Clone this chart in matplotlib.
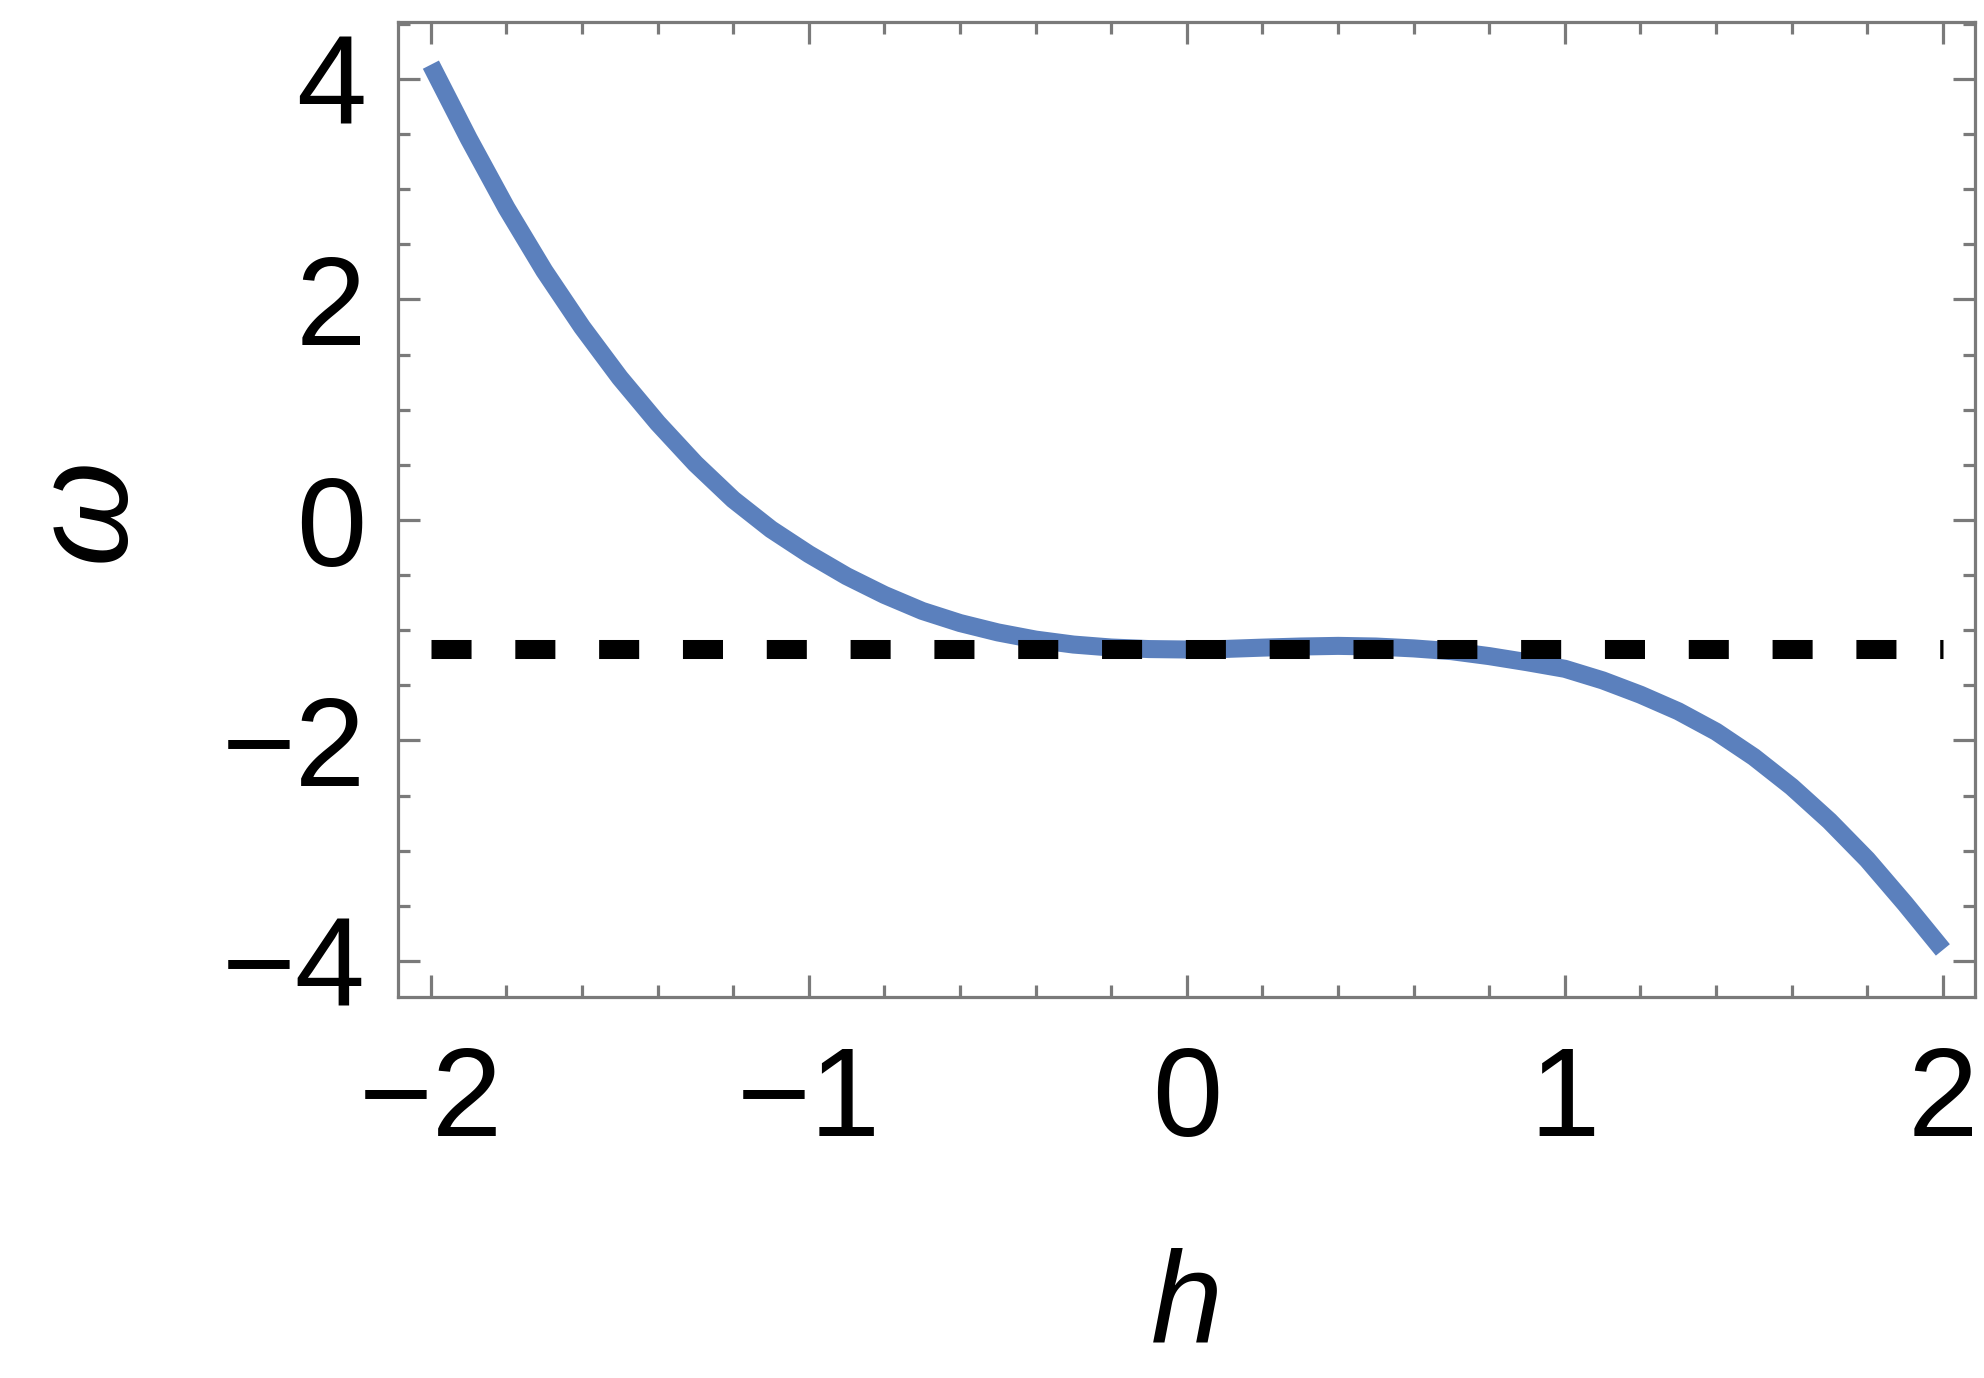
# omega(h) curve with the flat dashed reference level
import matplotlib
matplotlib.use("Agg")
import matplotlib.pyplot as plt
from matplotlib.ticker import MultipleLocator

# values (every 0.1 in h)
h_vals = [-2.0, -1.9, -1.8, -1.7, -1.6, -1.5, -1.4, -1.3, -1.2, -1.1,
          -1.0, -0.9, -0.8, -0.7, -0.6, -0.5, -0.4, -0.3, -0.2, -0.1,
          0.0, 0.1, 0.2, 0.3, 0.4, 0.5, 0.6, 0.7, 0.8, 0.9,
          1.0, 1.1, 1.2, 1.3, 1.4, 1.5, 1.6, 1.7, 1.8, 1.9, 2.0]
w_vals = [4.13, 3.46, 2.83, 2.26, 1.75, 1.29, 0.88, 0.51, 0.185, -0.085,
          -0.31, -0.51, -0.68, -0.825, -0.935, -1.02, -1.085, -1.13, -1.157, -1.171,
          -1.175, -1.17, -1.158, -1.148, -1.142, -1.148, -1.165, -1.19, -1.235, -1.29,
          -1.35, -1.455, -1.585, -1.735, -1.92, -2.15, -2.42, -2.73, -3.08, -3.48, -3.90]
level_h = [-2.0, 2.0]
level_w = -1.17

x_ticks = [-2, -1, 0, 1, 2]
y_ticks = [-4, -2, 0, 2, 4]

plt.rcParams['font.family'] = ['Liberation Sans', 'DejaVu Sans']
fs = 91
frame_col = '#7a7a7a'

fig = plt.figure(figsize=(19.84, 13.78), dpi=100)
ax = fig.add_axes([398/1984, 1 - 997/1378, (1975-398)/1984, (997-22)/1378])

ax.plot(h_vals, w_vals, color='#5b80bd', lw=13, solid_capstyle='butt',
        solid_joinstyle='round', zorder=2)
ax.plot(level_h, [level_w, level_w], color='black', lw=13.7,
        dashes=(2.105, 2.3), zorder=3)

ax.set_xlim(-2.087, 2.085)
ax.set_ylim(-4.327, 4.517)
ax.set_xticks(x_ticks)
ax.set_yticks(y_ticks)
ax.xaxis.set_minor_locator(MultipleLocator(0.2))
ax.yaxis.set_minor_locator(MultipleLocator(0.5))

for s in ax.spines.values():
    s.set_color(frame_col)
    s.set_linewidth(2.3)

ax.tick_params(which='both', direction='in', top=True, right=True,
               color=frame_col, width=2.3, labelsize=fs)
ax.tick_params(which='major', length=15.5)
ax.tick_params(which='minor', length=8.5)
ax.tick_params(axis='x', which='major', pad=34)
ax.tick_params(axis='y', which='major', pad=23)

ax.set_xlabel('h', fontsize=fs + 2, style='italic', va='baseline')
ax.xaxis.set_label_coords(0.5, (997 - 1342) / 975)
ax.set_ylabel('ω', fontsize=fs + 6, style='italic', va='baseline')
ax.yaxis.set_label_coords((124 - 398) / 1577, 0.5)

fig.savefig('out.png', dpi=100)
